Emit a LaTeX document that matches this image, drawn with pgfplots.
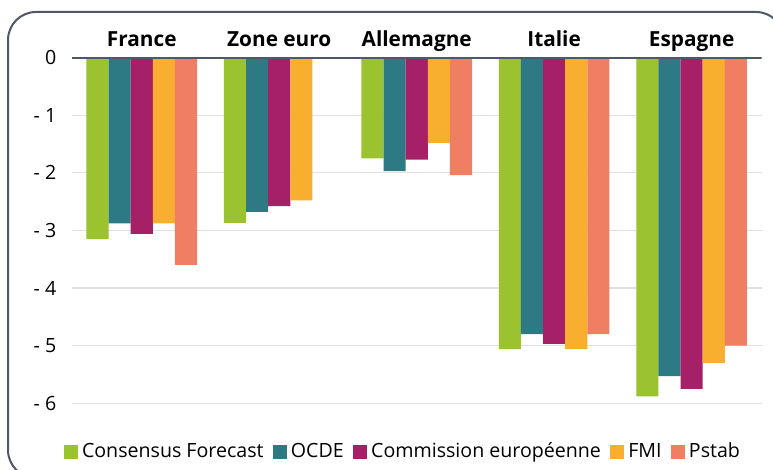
\documentclass[border=0pt]{standalone}
\usepackage{pgfplots}
\pgfplotsset{compat=1.18}
\usepackage{fontspec}
\setmainfont{Open Sans}
\definecolor{cf}{RGB}{155,195,48}
\definecolor{ocde}{RGB}{46,122,132}
\definecolor{ce}{RGB}{166,32,104}
\definecolor{fmi}{RGB}{248,174,46}
\definecolor{pstab}{RGB}{239,126,98}
\definecolor{framec}{RGB}{80,88,104}
\definecolor{gridc}{RGB}{224,224,224}
\begin{document}
\begin{tikzpicture}
\useasboundingbox (0,0) rectangle (386.5pt,235pt);
\fill[white] (0,0) rectangle (386.5pt,235pt);
\draw[framec, line width=1pt, rounded corners=14pt] (4pt,229pt) rectangle (392pt,-4pt);
\begin{axis}[
  at={(35.85pt,19pt)}, anchor=south west, scale only axis,
  width=345pt, height=187.2pt,
  ybar=0pt, bar width=0.161,
  xmin=-0.51, xmax=4.51, ymin=-6.5, ymax=0,
  xtick={0,1,2,3,4},
  xticklabels={France,Zone euro,Allemagne,Italie,Espagne},
  xticklabel pos=upper,
  xticklabel style={font=\fontsize{10.4}{12}\selectfont\bfseries, anchor=base, inner sep=0pt, yshift=5.3pt},
  ytick={-6,-5,-4,-3,-2,-1,0},
  yticklabels={- 6,- 5,- 4,- 3,- 2,- 1,0},
  yticklabel style={font=\fontsize{9.8}{11}\selectfont, anchor=east, inner sep=0pt, xshift=-7.5pt},
  major tick length=0pt,
  axis line style={draw=none},
  ymajorgrids, grid style={gridc, line width=0.6pt},
  legend columns=-1,
  legend style={draw=none, fill=none, at={(0.4816,-0.053)}, anchor=center,
    font=\fontsize{9.8}{11}\selectfont,
    /tikz/every even column/.append style={column sep=2.7pt}},
  legend image code/.code={\fill[#1] (0pt,-3.5pt) rectangle (7pt,3.5pt);},
]
\addplot[fill=cf, draw=none] coordinates {(0,-3.15) (1,-2.87) (2,-1.75) (3,-5.06) (4,-5.88)};
\addplot[fill=ocde, draw=none] coordinates {(0,-2.88) (1,-2.68) (2,-1.97) (3,-4.80) (4,-5.53)};
\addplot[fill=ce, draw=none] coordinates {(0,-3.06) (1,-2.58) (2,-1.77) (3,-4.97) (4,-5.75)};
\addplot[fill=fmi, draw=none] coordinates {(0,-2.88) (1,-2.48) (2,-1.48) (3,-5.06) (4,-5.30)};
\addplot[fill=pstab, draw=none] coordinates {(0,-3.60) (2,-2.04) (3,-4.80) (4,-5.00)};
\legend{Consensus Forecast, OCDE, Commission européenne, FMI, Pstab}
\draw[framec, line width=1pt] (axis cs:-0.51,0) -- (axis cs:4.51,0);
\end{axis}
\end{tikzpicture}
\end{document}
